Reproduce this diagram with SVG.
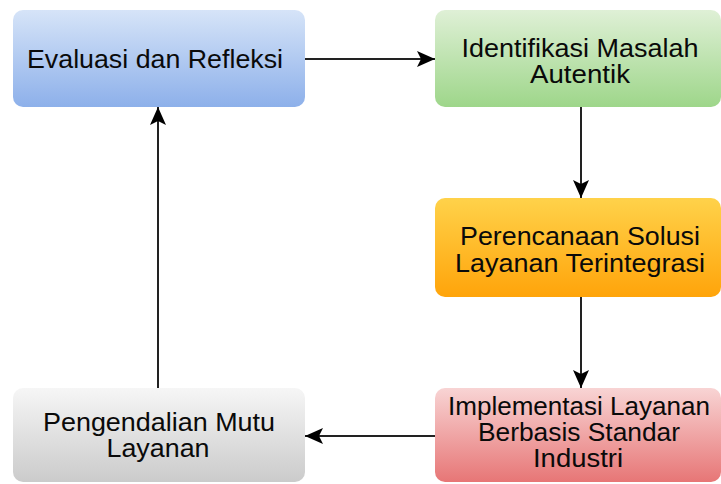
<svg xmlns="http://www.w3.org/2000/svg" width="721" height="484" viewBox="0 0 721 484">
<defs>
<linearGradient id="gBlue" x1="0" y1="0" x2="0" y2="1"><stop offset="0" stop-color="#d6e4f8"/><stop offset="1" stop-color="#8db0ea"/></linearGradient>
<linearGradient id="gGreen" x1="0" y1="0" x2="0" y2="1"><stop offset="0" stop-color="#dff0d6"/><stop offset="1" stop-color="#9ed68a"/></linearGradient>
<linearGradient id="gOrange" x1="0" y1="0" x2="0" y2="1"><stop offset="0" stop-color="#ffd24a"/><stop offset="1" stop-color="#ffa40a"/></linearGradient>
<linearGradient id="gRed" x1="0" y1="0" x2="0" y2="1"><stop offset="0" stop-color="#f8d4d4"/><stop offset="1" stop-color="#e77676"/></linearGradient>
<linearGradient id="gGray" x1="0" y1="0" x2="0" y2="1"><stop offset="0" stop-color="#f6f6f6"/><stop offset="1" stop-color="#cbcbcb"/></linearGradient>
<marker id="arr" viewBox="0 0 18 16" refX="18" refY="8" markerWidth="18" markerHeight="16" markerUnits="userSpaceOnUse" orient="auto">
<path d="M0,0 L18,8 L0,16 L4,8 Z" fill="#000"/>
</marker>
</defs>
<style>
.box{stroke:none}
.t{font-family:"Liberation Sans",Arial,sans-serif;font-size:25px;fill:#0a0a0a;text-anchor:middle}
.c{stroke:#222;stroke-width:2;fill:none;marker-end:url(#arr)}
</style>
<rect width="721" height="484" fill="#fff"/>
<g id="n1">
<rect class="box" x="13" y="10" width="292" height="97" rx="10" fill="url(#gBlue)"/>
<text class="t" x="155" y="68" textLength="256" lengthAdjust="spacingAndGlyphs">Evaluasi dan Refleksi</text>
</g>
<g id="n2">
<rect class="box" x="435" y="10" width="286" height="97" rx="10" fill="url(#gGreen)"/>
<text class="t" x="580" y="57" textLength="237" lengthAdjust="spacingAndGlyphs">Identifikasi Masalah</text>
<text class="t" x="580" y="83" textLength="100" lengthAdjust="spacingAndGlyphs">Autentik</text>
</g>
<g id="n3">
<rect class="box" x="435" y="198" width="286" height="99" rx="10" fill="url(#gOrange)"/>
<text class="t" x="580" y="245" textLength="240" lengthAdjust="spacingAndGlyphs">Perencanaan Solusi</text>
<text class="t" x="580" y="272" textLength="250" lengthAdjust="spacingAndGlyphs">Layanan Terintegrasi</text>
</g>
<g id="n4">
<rect class="box" x="435" y="388" width="286" height="94" rx="10" fill="url(#gRed)"/>
<text class="t" x="579" y="415" textLength="262" lengthAdjust="spacingAndGlyphs">Implementasi Layanan</text>
<text class="t" x="579" y="441" textLength="202" lengthAdjust="spacingAndGlyphs">Berbasis Standar</text>
<text class="t" x="578" y="467" textLength="90" lengthAdjust="spacingAndGlyphs">Industri</text>
</g>
<g id="n5">
<rect class="box" x="13" y="388" width="292" height="94" rx="10" fill="url(#gGray)"/>
<text class="t" x="159" y="431" textLength="232" lengthAdjust="spacingAndGlyphs">Pengendalian Mutu</text>
<text class="t" x="158" y="457" textLength="103" lengthAdjust="spacingAndGlyphs">Layanan</text>
</g>
<g id="connectors">
<line class="c" x1="305" y1="59" x2="435" y2="59"/>
<line class="c" x1="581" y1="107" x2="581" y2="198"/>
<line class="c" x1="581" y1="297" x2="581" y2="388"/>
<line class="c" x1="435" y1="436" x2="305" y2="436"/>
<line class="c" x1="158" y1="388" x2="158" y2="107"/>
</g>
</svg>
